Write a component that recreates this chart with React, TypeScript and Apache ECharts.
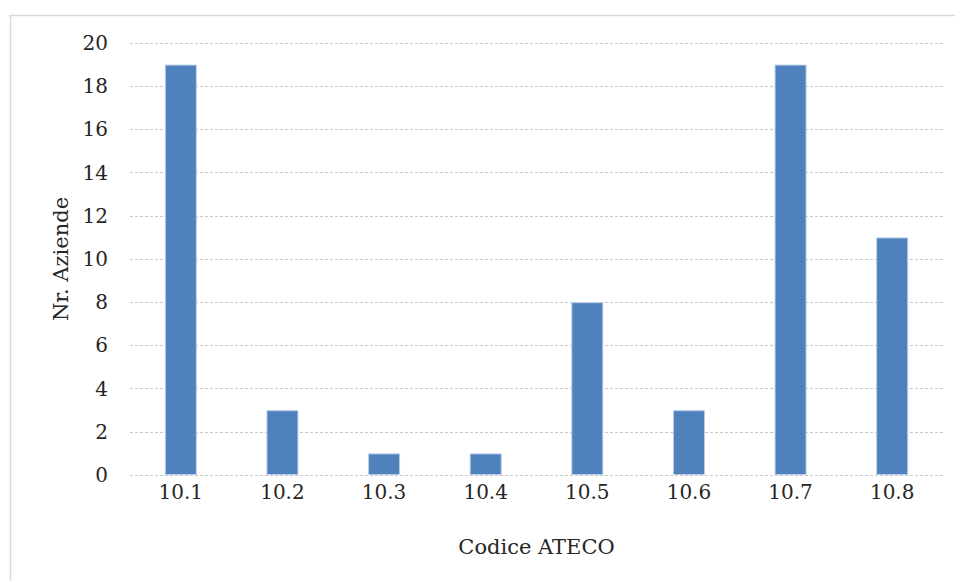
import React, { useEffect, useRef } from "react";
import * as echarts from "echarts";

// ATECO codes (food industry divisions) and number of companies in each
const categories = ["10.1", "10.2", "10.3", "10.4", "10.5", "10.6", "10.7", "10.8"];
const companyCounts = [19, 3, 1, 1, 8, 3, 19, 11];
const yTicks = { min: 0, max: 20, interval: 2 };

const FONT = "'DejaVu Serif', serif";

export default function App() {
  const ref = useRef<HTMLDivElement>(null);

  useEffect(() => {
    if (!ref.current) return;
    const chart = echarts.init(ref.current, null, { renderer: "svg" });
    chart.setOption({
      animation: false,
      backgroundColor: "#ffffff",
      grid: { left: 130, right: 12, top: 43, bottom: 106, containLabel: false },
      graphic: [
        {
          type: "line",
          shape: { x1: 9, y1: 15.5, x2: 955, y2: 15.5 },
          style: { stroke: "#d9d9d9", lineWidth: 1.5 },
        },
        {
          type: "line",
          shape: { x1: 10.5, y1: 15, x2: 10.5, y2: 581 },
          style: { stroke: "#d9d9d9", lineWidth: 1.5 },
        },
      ],
      xAxis: {
        type: "category",
        data: categories,
        name: "Codice ATECO",
        nameLocation: "middle",
        nameGap: 61,
        nameTextStyle: { fontFamily: FONT, fontSize: 21, color: "#262626" },
        axisLine: { show: false },
        axisTick: { show: false },
        axisLabel: { fontFamily: FONT, fontSize: 20, color: "#262626", margin: 7 },
      },
      yAxis: {
        type: "value",
        min: yTicks.min,
        max: yTicks.max,
        interval: yTicks.interval,
        name: "Nr. Aziende",
        nameLocation: "middle",
        nameGap: 58,
        nameTextStyle: { fontFamily: FONT, fontSize: 21, color: "#262626" },
        axisLine: { show: false },
        axisTick: { show: false },
        axisLabel: { fontFamily: FONT, fontSize: 20, color: "#262626", margin: 22 },
        splitLine: {
          show: true,
          lineStyle: { color: "#c8c8c8", width: 1, type: [3, 2] },
        },
      },
      series: [
        {
          type: "bar",
          data: companyCounts,
          barWidth: 32,
          itemStyle: { color: "#4f81bd", borderColor: "#b9cde6", borderWidth: 1 },
        },
      ],
    });
    return () => chart.dispose();
  }, []);

  return (
    <div
      ref={ref}
      style={{ position: "fixed", left: 0, top: 0, width: 955, height: 581 }}
    />
  );
}
